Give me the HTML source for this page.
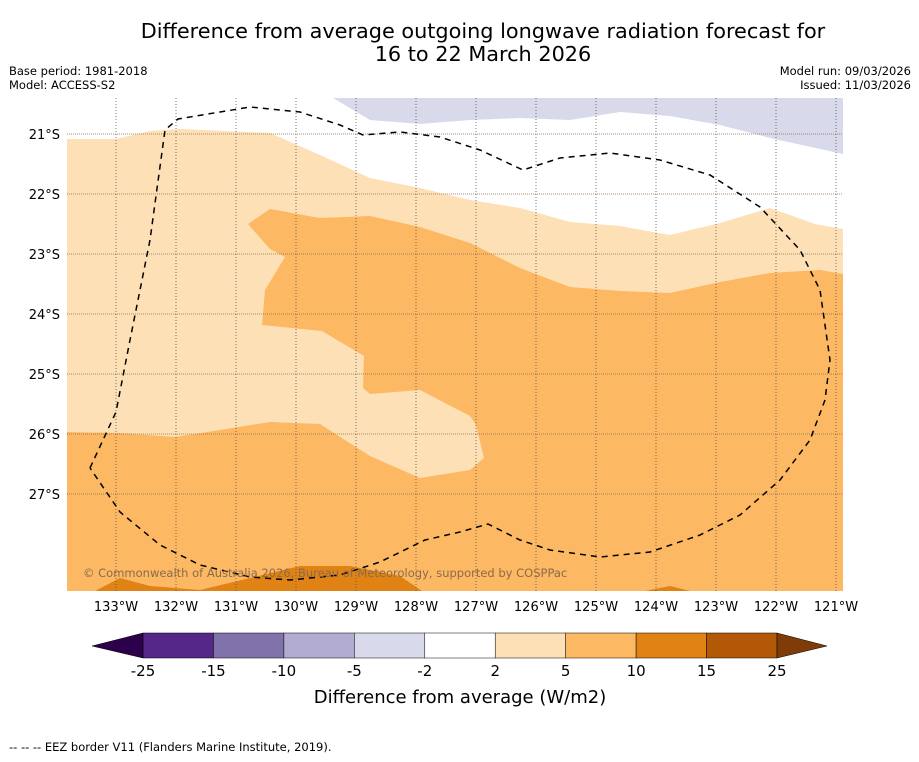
<!DOCTYPE html>
<html><head><meta charset="utf-8"><style>
body{margin:0;background:#fff;font-family:"DejaVu Sans","Liberation Sans",sans-serif;}
</style></head><body>
<svg id="chart" width="919" height="758" xmlns="http://www.w3.org/2000/svg" font-family="DejaVu Sans, Liberation Sans, sans-serif">
<text x="483" y="38" font-size="20.8" text-anchor="middle">Difference from average outgoing longwave radiation forecast for</text>
<text x="483" y="61" font-size="20.8" text-anchor="middle">16 to 22 March 2026</text>
<text x="9" y="75" font-size="11.5">Base period: 1981-2018</text>
<text x="9" y="89" font-size="11.5">Model: ACCESS-S2</text>
<text x="911" y="75" font-size="11.5" text-anchor="end">Model run: 09/03/2026</text>
<text x="911" y="89" font-size="11.5" text-anchor="end">Issued: 11/03/2026</text>
<defs><clipPath id="mapclip"><rect x="67" y="98" width="776" height="493"/></clipPath></defs>
<g id="map" clip-path="url(#mapclip)"></g>
<g id="axes"></g>
<g id="cbar"></g>
<text x="460" y="703" font-size="18" text-anchor="middle">Difference from average (W/m2)</text>
<text x="9" y="751" font-size="11.5">--  --  -- EEZ border V11 (Flanders Marine Institute, 2019).</text>
</svg>
<script>
const latTicks=[-21,-22,-23,-24,-25,-26,-27];
const lonTicks=[-133,-132,-131,-130,-129,-128,-127,-126,-125,-124,-123,-122,-121];
const cbBounds=[-25,-15,-10,-5,-2,2,5,10,15,25];
const cbColors=['#542788','#8073ac','#b2abd2','#d8daeb','#ffffff','#fee0b6','#fdb863','#e08214','#b35806'];
function X(lon){return 116+(lon+133)*60;}
function Y(lat){return 134+(-21-lat)*60;}
function P(px){return px.map(p=>[-133+(p[0]-116)/60,-21-(p[1]-134)/60]);}
const whiteRegion=P([[67,139],[116,139],[150,131],[180,129],[270,133],[320,155],[370,178],[420,188],[470,200],[520,208],[570,222],[620,226],[670,235],[720,223],[770,208],[815,224],[843,229],[843,98],[67,98]]);
const purpleRegion=P([[333,98],[370,120],[420,124],[470,120],[520,118],[570,120],[620,112],[670,116],[720,125],[770,138],[843,154],[843,98]]);
const orangeRegion=P([[67,432],[120,433],[175,437],[220,430],[270,422],[320,424],[370,456],[420,478],[470,470],[484,458],[476,425],[470,416],[420,390],[370,394],[363,388],[364,356],[322,331],[262,325],[265,290],[285,257],[270,249],[248,224],[270,209],[320,218],[370,216],[420,227],[470,243],[520,268],[570,287],[620,291],[670,293],[720,282],[770,273],[820,270],[843,274],[843,591],[67,591]]);
const dark1=P([[95,591],[120,578],[150,586],[200,590],[250,578],[300,566],[350,566],[400,576],[422,591]]);
const dark2=P([[645,591],[670,586],[690,591]]);
const eez=P([[90,468],[116,412],[130,340],[150,240],[165,130],[178,119],[250,107],[300,112],[340,125],[363,135],[400,132],[440,137],[480,150],[523,170],[560,158],[610,153],[660,160],[710,175],[760,207],[800,250],[820,290],[830,360],[825,400],[810,440],[780,480],[740,515],[700,535],[650,552],[600,557],[550,550],[520,540],[488,524],[460,532],[425,540],[380,562],[340,575],[290,580],[250,577],[200,565],[160,545],[120,512],[90,468]]);
const NS='http://www.w3.org/2000/svg';
function mk(t,a,parent){const e=document.createElementNS(NS,t);for(const k in a)e.setAttribute(k,a[k]);parent.appendChild(e);return e;}
const map=document.getElementById('map');
let e=mk('rect',{x:67,y:98,width:776,height:493,fill:'#fee0b6'},map);


function poly(pts,fill,name){const el=mk('polygon',{points:pts.map(p=>X(p[0]).toFixed(1)+','+Y(p[1]).toFixed(1)).join(' '),fill:fill},map);

}
poly(whiteRegion,'#ffffff','region-minus2-to-2');
poly(purpleRegion,'#d8daeb','region-minus5-to-minus2');
poly(orangeRegion,'#fdb863','region-5-to-10');
poly(dark1,'#e08214','region-10-to-15-west');
poly(dark2,'#e08214','region-10-to-15-east');
const ax=document.getElementById('axes');
lonTicks.forEach(l=>{const g=mk('line',{x1:X(l),x2:X(l),y1:98,y2:591,stroke:'#555','stroke-width':0.8,'stroke-dasharray':'1,2'},map);


const t=mk('text',{x:X(l),y:611,'font-size':13,'text-anchor':'middle'},ax);t.textContent=Math.abs(l)+'°W';

});
latTicks.forEach(l=>{const g=mk('line',{x1:67,x2:843,y1:Y(l),y2:Y(l),stroke:'#8a6a4a','stroke-width':0.8,'stroke-dasharray':'1,1'},map);


const t=mk('text',{x:60,y:Y(l)+5,'font-size':13,'text-anchor':'end'},ax);t.textContent=Math.abs(l)+'°S';

});
const ez=mk('polyline',{points:eez.map(p=>X(p[0]).toFixed(1)+','+Y(p[1]).toFixed(1)).join(' '),fill:'none',stroke:'#000','stroke-width':1.5,'stroke-dasharray':'6,5'},map);


const cr=mk('text',{x:83,y:577,'font-size':11.5,fill:'#8a6a4a'},map);cr.textContent='© Commonwealth of Australia 2026, Bureau of Meteorology, supported by COSPPac';


const cb=document.getElementById('cbar');
const cx0=143,cw=(777-143)/(cbBounds.length-1);
cbColors.forEach((c,i)=>{const r=mk('rect',{x:cx0+i*cw,y:633,width:cw,height:25,fill:c,stroke:'#000','stroke-width':0.5},cb);

});
let tl=mk('polygon',{points:'143,633 92,646 143,658',fill:'#2d004b',stroke:'#000','stroke-width':0.5},cb);


let tr=mk('polygon',{points:'777,633 827,646 777,658',fill:'#7f3b08',stroke:'#000','stroke-width':0.5},cb);


cbBounds.forEach((b,i)=>{const t=mk('text',{x:cx0+i*cw,y:676,'font-size':15,'text-anchor':'middle'},cb);t.textContent=b;

});
</script>
</body></html>
